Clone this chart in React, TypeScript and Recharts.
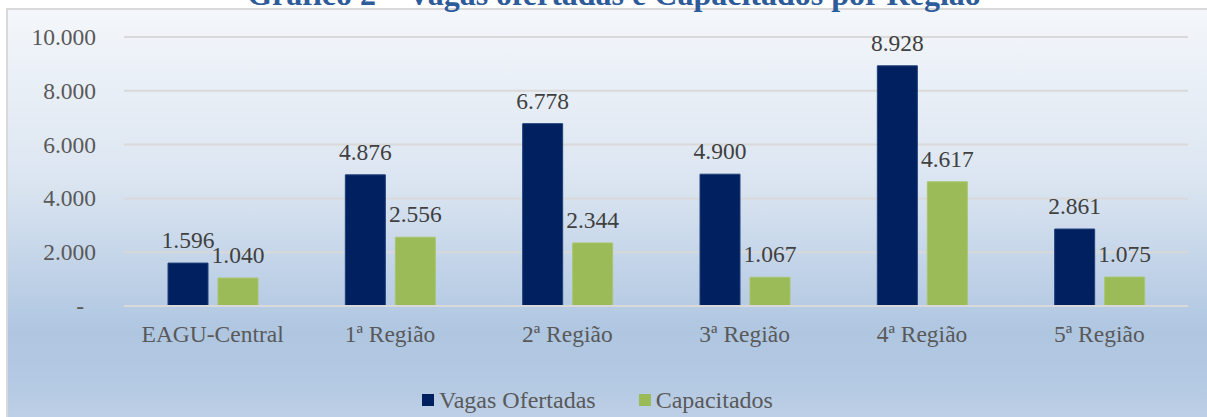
import { BarChart, Bar, XAxis, YAxis, CartesianGrid, Legend, LabelList } from 'recharts';

const categories = ['EAGU-Central', '1ª Região', '2ª Região', '3ª Região', '4ª Região', '5ª Região'];
const vagasOfertadas = [1596, 4876, 6778, 4900, 8928, 2861];
const capacitados = [1040, 2556, 2344, 1067, 4617, 1075];
const yTicks = [0, 2000, 4000, 6000, 8000, 10000];

const data = categories.map((name, i) => ({
    name,
    vagas: vagasOfertadas[i],
    capacitados: capacitados[i],
}));

const FONT = '"Liberation Serif", "Times New Roman", serif';

// 1596 -> "1.596", 0 -> "-"
const fmt = (v: any) => {
    const n = Number(v);
    if (!n) return '-';
    return String(Math.round(n)).replace(/\B(?=(\d{3})+(?!\d))/g, '.');
};

const YTick = (props: any) => {
    const { x, y, payload } = props;
    const isZero = payload.value === 0;
    return (
        <text x={isZero ? x - 12 : x} y={y} dy={8} textAnchor="end" fill="#595959" fontSize={23.5} fontFamily={FONT}>
            {fmt(payload.value)}
        </text>
    );
};

const LegendContent = (props: any) => {
    const items = [...(props.payload || [])].sort((a: any, b: any) => (a.dataKey === 'vagas' ? -1 : 1));
    return (
        <div style={{ display: 'flex', justifyContent: 'center', alignItems: 'center', gap: 43, paddingLeft: 0 }}>
            {items.map((it: any) => (
                <div key={it.value} style={{ display: 'flex', alignItems: 'center' }}>
                    <span style={{ display: 'inline-block', width: 12, height: 12, background: it.color, marginRight: 5 }} />
                    <span style={{ color: '#595959', fontFamily: FONT, fontSize: 24, lineHeight: '28px' }}>{it.value}</span>
                </div>
            ))}
        </div>
    );
};

const App = () => {
    return (
        <div style={{ position: 'fixed', left: 0, top: 0, width: 1207, height: 417, overflow: 'hidden', background: '#fff' }}>
            <div
                style={{
                    position: 'absolute', left: 6, top: 8, width: 1220, height: 430,
                    border: '2px solid #d9d9d9',
                    background: 'linear-gradient(180deg, #f4f7fb 0%, #dbe5f1 40%, #afc6e1 75%, #b5cae3 88%, #c4d4e9 100%)',
                }}
            />
            <div
                style={{
                    position: 'absolute', left: 0, top: -24, width: 1228, textAlign: 'center',
                    fontFamily: FONT, fontWeight: 'bold', fontSize: 32, color: '#2e5c9a', whiteSpace: 'nowrap',
                }}
            >
                Gráfico 2 – Vagas ofertadas e Capacitados por Região
            </div>
            <div style={{ position: 'absolute', left: 0, top: 0 }}>
                <BarChart
                    width={1207}
                    height={417}
                    data={data}
                    margin={{ top: 37, right: 19, left: 0, bottom: 56 }}
                    barSize={40}
                    barGap={10}
                >
                    <CartesianGrid vertical={false} stroke="#d9d9d9" strokeWidth={2} />
                    <XAxis
                        dataKey="name"
                        height={30}
                        axisLine={{ stroke: '#d9d9d9', strokeWidth: 2 }}
                        tickLine={false}
                        tickMargin={13}
                        tick={{ fill: '#595959', fontSize: 23.5, fontFamily: FONT }}
                    />
                    <YAxis
                        width={124}
                        domain={[0, 10000]}
                        ticks={yTicks}
                        axisLine={false}
                        tickLine={false}
                        tickSize={0}
                        tickMargin={28}
                        tick={<YTick />}
                        interval={0}
                    />
                    <Legend
                        height={25}
                        verticalAlign="bottom"
                        content={<LegendContent />}
                        wrapperStyle={{ top: 386, left: 0, width: 1195 }}
                    />
                    <Bar dataKey="vagas" name="Vagas Ofertadas" fill="#002060" stroke="#1f3f7a" strokeWidth={1} isAnimationActive={false}>
                        <LabelList dataKey="vagas" position="top" offset={15} formatter={fmt} fill="#404040" fontSize={23.5} fontFamily={FONT} />
                    </Bar>
                    <Bar dataKey="capacitados" name="Capacitados" fill="#9bbb59" stroke="#a9c56e" strokeWidth={1} isAnimationActive={false}>
                        <LabelList dataKey="capacitados" position="top" offset={15} formatter={fmt} fill="#404040" fontSize={23.5} fontFamily={FONT} />
                    </Bar>
                </BarChart>
            </div>
        </div>
    );
};

export default App;
